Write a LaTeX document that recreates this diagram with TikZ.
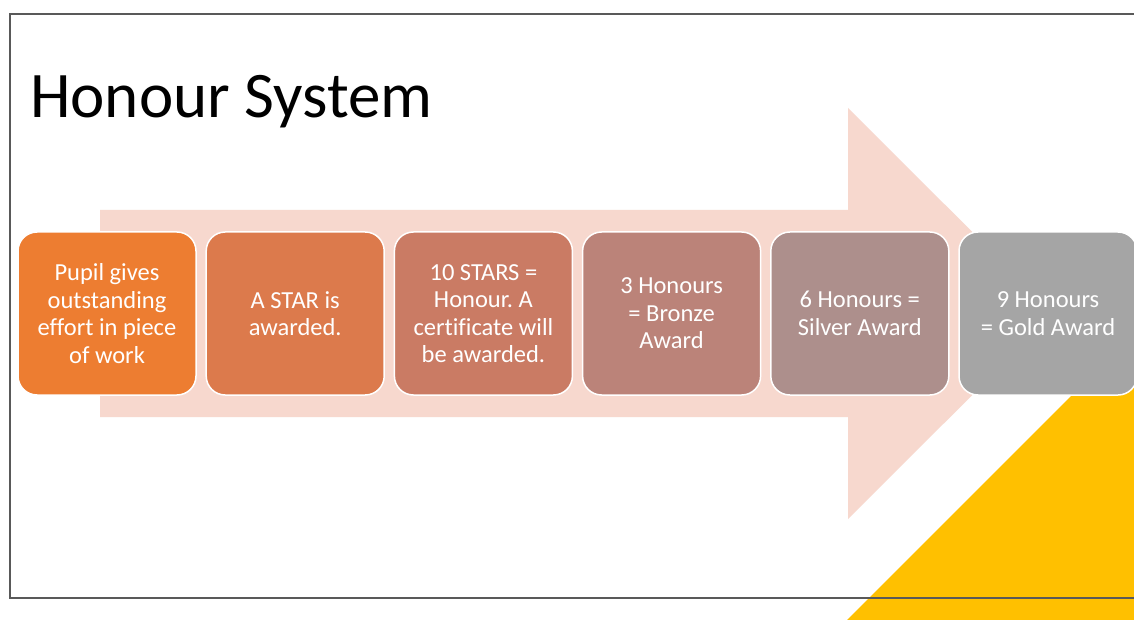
\documentclass[tikz,border=0pt]{standalone}
\usepackage{fontspec}
\setmainfont{Carlito}[Ligatures=CommonOff]
\definecolor{arrowpink}{HTML}{F7D8CE}
\definecolor{gold}{HTML}{FFC000}
\definecolor{framegray}{HTML}{595959}
\definecolor{cA}{HTML}{ED7D31}
\definecolor{cB}{HTML}{DC7A4C}
\definecolor{cC}{HTML}{CA7B64}
\definecolor{cD}{HTML}{BB8379}
\definecolor{cE}{HTML}{AD8F8C}
\definecolor{cF}{HTML}{A5A5A5}
\begin{document}
\frenchspacing
\begin{tikzpicture}[x=1pt,y=-1pt,
  stepbox/.style={draw=white, line width=1.5pt, rounded corners=19pt,
    minimum width=178pt, minimum height=163pt, align=center, text=white,
    inner sep=2pt, font=\fontsize{24.5}{27.5}\selectfont}]
\useasboundingbox (0,0) rectangle (1134,620);
\fill[white] (0,0) rectangle (1134,620);
% big arrow
\fill[arrowpink] (100,210) -- (848,210) -- (848,108) -- (1054,313.5) -- (848,519) -- (848,417) -- (100,417) -- cycle;
% yellow triangle
\fill[gold] (847,620) -- (1134,333) -- (1134,620) -- cycle;
% title
\node[anchor=base west, inner sep=0pt, font=\fontsize{65}{78}\selectfont] (title) at (30,118) {Honour System};
% boxes
\node[stepbox, fill=cA] (b1) at (107,313.5) {Pupil gives\\outstanding\\effort in piece\\of work};
\node[stepbox, fill=cB] (b2) at (295.2,313.5) {A STAR is\\awarded.};
\node[stepbox, fill=cC] (b3) at (483.4,313.5) {10 STARS =\\Honour. A\\certificate will\\be awarded.};
\node[stepbox, fill=cD] (b4) at (671.6,313.5) {3 Honours\\= Bronze\\Award};
\node[stepbox, fill=cE] (b5) at (859.8,313.5) {6 Honours =\\Silver Award};
\node[stepbox, fill=cF] (b6) at (1048,313.5) {9 Honours\\= Gold Award};
% frame
\draw[framegray, line width=2pt] (1140,14) -- (10,14) -- (10,598) -- (1140,598);
\end{tikzpicture}
\end{document}
